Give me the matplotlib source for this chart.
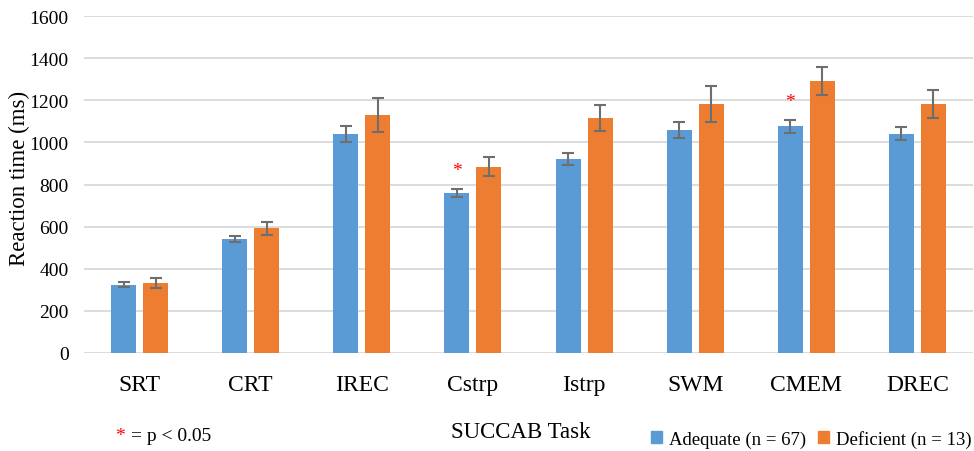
import numpy as np
import matplotlib.pyplot as plt
from matplotlib.patches import Patch

# data
tasks = ["SRT", "CRT", "IREC", "Cstrp", "Istrp", "SWM", "CMEM", "DREC"]
adequate = [324, 541, 1040, 761, 920, 1060, 1076, 1041]
adequate_err = [12, 14, 36, 19, 28, 37, 31, 31]
deficient = [332, 592, 1130, 885, 1116, 1181, 1292, 1181]
deficient_err = [22, 31, 80, 45, 60, 86, 68, 67]
signif = ["Cstrp", "CMEM"]

blue = "#5B9BD5"
orange = "#ED7D31"
grid_col = "#D9D9D9"
err_col = "#6E6E6E"

plt.rcParams['font.family'] = ['Liberation Serif', 'DejaVu Serif']

fig = plt.figure(figsize=(9.74, 4.52), dpi=100)
ax = fig.add_axes([84 / 974, 1 - 354 / 452, 889 / 974, 337 / 452])

x = np.arange(len(tasks))
w = 0.225
off = 0.144
ax.bar(x - off, adequate, w, color=blue, zorder=3,
       yerr=adequate_err, ecolor=err_col,
       error_kw=dict(capsize=4, elinewidth=1.5, capthick=1.5, zorder=4))
ax.bar(x + off, deficient, w, color=orange, zorder=3,
       yerr=deficient_err, ecolor=err_col,
       error_kw=dict(capsize=4, elinewidth=1.5, capthick=1.5, zorder=4))

# significance stars above the adequate bars
for t in signif:
    i = tasks.index(t)
    ax.text(i - off, adequate[i] + adequate_err[i] + 85, "*", color="red",
            ha="center", va="center", fontsize=14)

ax.set_xlim(-0.5, len(tasks) - 0.5)
ax.set_ylim(0, 1600)
ax.set_yticks(range(0, 1601, 200))
ax.set_xticks(x)
ax.set_xticklabels(tasks, fontsize=17)
ax.tick_params(axis='x', length=0, pad=15)
ax.tick_params(axis='y', length=0, pad=11, labelsize=14)
ax.yaxis.grid(True, color=grid_col, linewidth=1.3, zorder=0)
ax.set_axisbelow(True)
for s in ax.spines.values():
    s.set_visible(False)

fig.text(19 / 974, 1 - 178 / 452, "Reaction time (ms)", rotation=90,
         ha="center", va="center", fontsize=16.5)
fig.text(521 / 974, 1 - 433 / 452, "SUCCAB Task", ha="center", va="center",
         fontsize=16.5)
fig.text(115 / 974, 1 - 437 / 452, "*", color="red", ha="left", va="center",
         fontsize=14)
fig.text(131 / 974, 1 - 437 / 452, "= p < 0.05", ha="left", va="center",
         fontsize=14)

handles = [Patch(color=blue, label="Adequate (n = 67)"),
           Patch(color=orange, label="Deficient (n = 13)")]
fig.legend(handles=handles, loc="center right", ncol=2,
           bbox_to_anchor=(1.0, 1 - 440 / 452), frameon=False, fontsize=13.5,
           handlelength=0.6, handleheight=0.6, handletextpad=0.4,
           columnspacing=0.6, borderaxespad=0.0, borderpad=0.1)

fig.savefig("out.png", dpi=100)
